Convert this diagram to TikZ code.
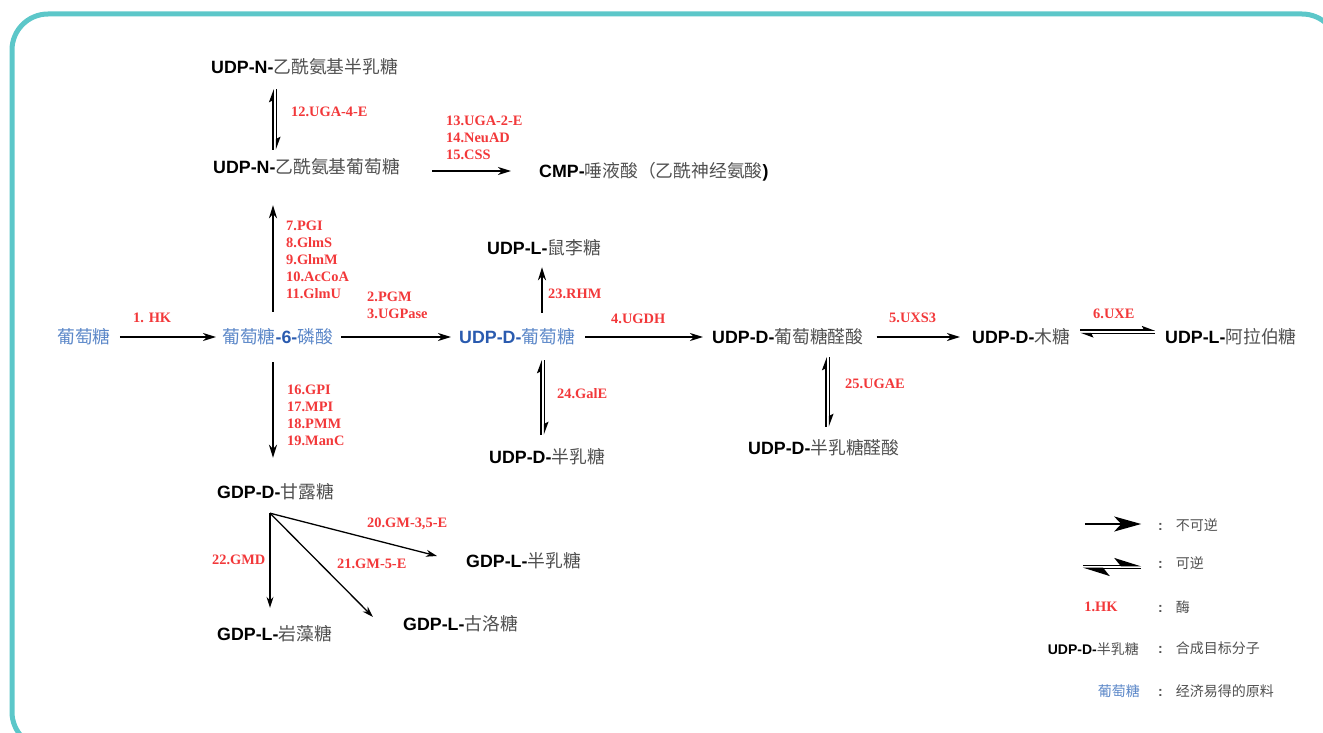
\documentclass[tikz,border=0pt]{standalone}
\usepackage{fontspec}
\setmainfont{Liberation Serif}
\setsansfont{Liberation Sans}
\newfontfamily\cjk{Noto Sans CJK SC}
\usetikzlibrary{arrows.meta,positioning,calc}

\definecolor{framecyan}{HTML}{5CC7C9}
\definecolor{enzred}{HTML}{F2383A}
\definecolor{rawblue}{HTML}{5B87C8}
\definecolor{udpblue}{HTML}{2A5BAF}
\definecolor{cngray}{HTML}{505050}
\newcommand{\pre}[1]{{\sffamily\bfseries #1}}
\newcommand{\cn}[1]{{\cjk\color{cngray}#1}}
\newcommand{\keycolon}{{\sffamily\bfseries\color{cngray}:}\hspace{13pt}}
\tikzstyle{mol} = [font=\fontsize{17.8}{20}\selectfont, text height=13pt, text depth=0pt, inner sep=2pt, anchor=west]
\tikzstyle{enz} = [font=\fontsize{14.4}{17}\selectfont\bfseries, text=enzred, align=left, inner sep=0pt, anchor=west]
\tikzstyle{key} = [font=\fontsize{14}{16}\selectfont, inner sep=0pt]

\begin{document}
\begin{tikzpicture}[x=1pt,y=-1pt,
    arr/.style={line width=1.8pt,-{Stealth[length=13pt,width=8pt,inset=4pt]}},
    fan/.style={line width=1.3pt,-{Stealth[length=11pt,width=7pt,inset=3.5pt]}},
    half/.style={line width=1.5pt,-{Stealth[harpoon,length=11pt,width=8pt,inset=2pt]}},
    keyarr/.style={line width=1.9pt,-{Stealth[length=27pt,width=15pt,inset=7pt]}},
    keyhalf/.style={line width=1.8pt,-{Stealth[harpoon,length=24pt,width=15pt,inset=6pt]}}]
  \useasboundingbox (0,0) rectangle (1323,733);
  \clip (0,0) rectangle (1323,733);
  \draw[framecyan,line width=5pt,rounded corners=36pt] (12,14) rectangle (1338,748);

  % columns of the vertical arrows
  \coordinate (gup) at (273,0);
  \coordinate (gdn) at (276.5,0);
  \coordinate (fcol) at (270,0);
  \coordinate (uup) at (541,0);
  \coordinate (udn) at (544.5,0);
  \coordinate (ucol) at (542,0);
  \coordinate (aup) at (826,0);
  \coordinate (adn) at (829.5,0);

  % main row
  \node[mol] (glc) at (55,337) {\cjk\color{rawblue}葡萄糖};
  \node[mol] (g6p) at (220,337) {{\cjk\color{rawblue}葡萄糖}{\sffamily\bfseries\color{udpblue}-6-}{\cjk\color{rawblue}磷酸}};
  \node[mol] (udpglc) at (457,337) {{\sffamily\bfseries\color{udpblue}UDP-D-}{\cjk\color{rawblue}葡萄糖}};
  \node[mol] (udpglca) at (710,337) {\pre{UDP-D-}\cn{葡萄糖醛酸}};
  \node[mol] (udpxyl) at (970,337) {\pre{UDP-D-}\cn{木糖}};
  \node[mol] (udpara) at (1163,337) {\pre{UDP-L-}\cn{阿拉伯糖}};
  % upper branch
  \node[mol] (udpnglc) at (211,167) {\pre{UDP-N-}\cn{乙酰氨基葡萄糖}};
  \node[mol] (udpngal) at (209,67) {\pre{UDP-N-}\cn{乙酰氨基半乳糖}};
  \node[mol] (cmpneu) at (537,171) {\pre{CMP-}\cn{唾液酸（乙酰神经氨酸}\pre{)}};
  \node[mol] (udprha) at (485,248) {\pre{UDP-L-}\cn{鼠李糖}};
  % lower branch
  \node[mol] (udpgal) at (487,457) {\pre{UDP-D-}\cn{半乳糖}};
  \node[mol] (udpgala) at (746,448) {\pre{UDP-D-}\cn{半乳糖醛酸}};
  \node[mol] (gdpman) at (215,492) {\pre{GDP-D-}\cn{甘露糖}};
  \node[mol] (gdpgal) at (464,561) {\pre{GDP-L-}\cn{半乳糖}};
  \node[mol] (gdpfuc) at (215,634) {\pre{GDP-L-}\cn{岩藻糖}};
  \node[mol] (gdpgul) at (401,624) {\pre{GDP-L-}\cn{古洛糖}};

  \draw[arr,shorten <=7pt,shorten >=4pt] (glc) -- (g6p);
  \draw[arr,shorten <=6pt,shorten >=6pt] (g6p) -- (udpglc);
  \draw[arr,shorten <=8pt,shorten >=7pt] (udpglc) -- (udpglca);
  \draw[arr,shorten <=11pt,shorten >=10pt] (udpglca) -- (udpxyl);
  \draw[half,shorten <=8pt,shorten >=8pt] ([yshift=7pt]udpxyl.east) -- ([yshift=7pt]udpara.west);
  \draw[half,shorten <=8pt,shorten >=8pt] ([yshift=3.5pt]udpara.west) -- ([yshift=3.5pt]udpxyl.east);

  \draw[arr,shorten <=16.5pt,shorten >=29.5pt] (g6p.north -| gup) -- (udpnglc.south -| gup);
  \draw[half,shorten <=8.5pt,shorten >=13.5pt] (udpnglc.north -| gup) -- (udpngal.south -| gup);
  \draw[half,shorten <=13.5pt,shorten >=8.5pt] (udpngal.south -| gdn) -- (udpnglc.north -| gdn);
  \draw[arr,shorten <=30pt,shorten >=26pt] (udpnglc.east |- cmpneu.west) -- (cmpneu.west);
  \draw[arr,shorten <=16.5pt,shorten >=25.5pt] (g6p.south -| gup) -- (gdpman.north -| gup);

  \coordinate (fork) at ($(gdpman.south -| fcol)+(0,12.5)$);
  \draw[fan,shorten >=17.5pt] (fork) -- (gdpfuc.north -| fork);
  \draw[fan] (fork) -- ($(gdpgul.west)+(-28,-7)$);
  \draw[fan] (fork) -- ($(gdpgal.west)+(-27,-5)$);

  \draw[arr,shorten <=15.5pt,shorten >=10.5pt] (udpglc.north -| ucol) -- (udprha.south -| ucol);
  \draw[half,shorten <=13.5pt,shorten >=14.5pt] (udpgal.north -| uup) -- (udpglc.south -| uup);
  \draw[half,shorten <=14.5pt,shorten >=13.5pt] (udpglc.south -| udn) -- (udpgal.north -| udn);
  \draw[half,shorten <=12.5pt,shorten >=11.5pt] (udpgala.north -| aup) -- (udpglca.south -| aup);
  \draw[half,shorten <=11.5pt,shorten >=12.5pt] (udpglca.south -| adn) -- (udpgala.north -| adn);

  % enzymes
  \node[enz] (e1) at (133,318) {1. HK};
  \node[enz] (e2) at (367,305) {2.PGM\\3.UGPase};
  \node[enz] (e4) at (611,319) {4.UGDH};
  \node[enz] (e5) at (889,318) {5.UXS3};
  \node[enz] (e6) at (1093,314) {6.UXE};
  \node[enz] (e7) at (286,260) {7.PGI\\8.GlmS\\9.GlmM\\10.AcCoA\\11.GlmU};
  \node[enz] (e12) at (291,112) {12.UGA-4-E};
  \node[enz] (e13) at (446,137.5) {13.UGA-2-E\\14.NeuAD\\15.CSS};
  \node[enz] (e16) at (287,415.5) {16.GPI\\17.MPI\\18.PMM\\19.ManC};
  \node[enz] (e20) at (367,524) {20.GM-3,5-E};
  \node[enz] (e21) at (337,564) {21.GM-5-E};
  \node[enz] (e22) at (212,560) {22.GMD};
  \node[enz] (e23) at (548,294) {23.RHM};
  \node[enz] (e24) at (557,394) {24.GalE};
  \node[enz] (e25) at (845,384) {25.UGAE};

  % legend
  \node[minimum width=56pt,inner sep=0pt] (kirr) at (1113,524) {};
  \draw[keyarr] (kirr.west) -- (kirr.east);
  \node[minimum width=58pt,inner sep=0pt] (krev) at (1112,567) {};
  \draw[keyhalf] ([yshift=1.5pt]krev.west) -- ([yshift=1.5pt]krev.east);
  \draw[keyhalf] ([yshift=-1.5pt]krev.east) -- ([yshift=-1.5pt]krev.west);
  \node[enz,anchor=center] (kenz) at (1101,607) {1.HK};
  \node[key,anchor=east] (kmol) at (1139,649) {\pre{UDP-D-}\cn{半乳糖}};
  \node[key,anchor=east] (kraw) at (1140,691) {\cjk\color{rawblue}葡萄糖};
  \node[key,anchor=west] (tirr) at (1158,525) {\keycolon\cn{不可逆}};
  \node[key,anchor=west] (trev) at (1158,563) {\keycolon\cn{可逆}};
  \node[key,anchor=west] (tenz) at (1158,607) {\keycolon\cn{酶}};
  \node[key,anchor=west] (tmol) at (1158,648) {\keycolon\cn{合成目标分子}};
  \node[key,anchor=west] (traw) at (1158,691) {\keycolon\cn{经济易得的原料}};
\end{tikzpicture}
\end{document}
